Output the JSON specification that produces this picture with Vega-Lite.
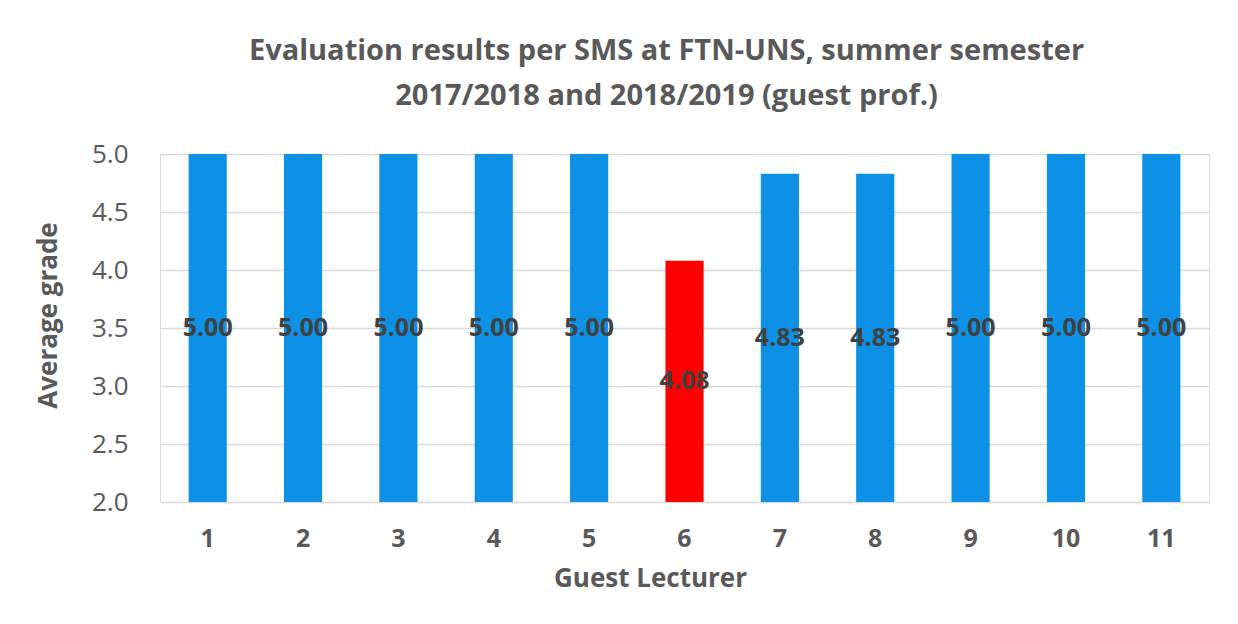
{
  "$schema": "https://vega.github.io/schema/vega-lite/v6.json",
  "width": 1049,
  "height": 348,
  "autosize": {"type": "none"},
  "padding": {"left": 160, "top": 154, "right": 29, "bottom": 122},
  "background": "white",
  "title": {
    "text": ["Evaluation results per SMS at FTN-UNS, summer semester", "2017/2018 and 2018/2019 (guest prof.)"],
    "font": "Open Sans",
    "fontSize": 29,
    "fontWeight": "bold",
    "color": "#595959",
    "anchor": "middle",
    "offset": 30,
    "dx": -18,
    "lineHeight": 45
  },
  "data": {
    "values": [
      {"lecturer": "1", "grade": 5.00, "type": "ok"},
      {"lecturer": "2", "grade": 5.00, "type": "ok"},
      {"lecturer": "3", "grade": 5.00, "type": "ok"},
      {"lecturer": "4", "grade": 5.00, "type": "ok"},
      {"lecturer": "5", "grade": 5.00, "type": "ok"},
      {"lecturer": "6", "grade": 4.08, "type": "low"},
      {"lecturer": "7", "grade": 4.83, "type": "ok"},
      {"lecturer": "8", "grade": 4.83, "type": "ok"},
      {"lecturer": "9", "grade": 5.00, "type": "ok"},
      {"lecturer": "10", "grade": 5.00, "type": "ok"},
      {"lecturer": "11", "grade": 5.00, "type": "ok"}
    ]
  },
  "encoding": {
    "x": {
      "field": "lecturer",
      "type": "ordinal",
      "sort": null,
      "scale": {"paddingInner": 0.6, "paddingOuter": 0.3},
      "axis": {
        "title": "Guest Lecturer",
        "titleFont": "Open Sans",
        "titleFontSize": 26,
        "titleFontWeight": "bold",
        "titleColor": "#595959",
        "titleX": 490,
        "titleY": 76,
        "titleBaseline": "middle",
        "labelFont": "Open Sans",
        "labelFontSize": 25,
        "labelFontWeight": "bold",
        "labelColor": "#595959",
        "labelAngle": 0,
        "labelPadding": 24,
        "ticks": false,
        "domain": false
      }
    }
  },
  "layer": [
    {
      "mark": {"type": "bar"},
      "encoding": {
        "y": {
          "field": "grade",
          "type": "quantitative",
          "scale": {"domain": [2, 5], "zero": false, "nice": false},
          "axis": {
            "title": "Average grade",
            "titleFont": "Open Sans",
            "titleFontSize": 26,
            "titleFontWeight": "bold",
            "titleColor": "#595959",
            "titleX": -112,
            "titleY": 161,
            "titleBaseline": "middle",
            "labelFont": "Open Sans",
            "labelFontSize": 26,
            "labelColor": "#595959",
            "labelPadding": 32,
            "values": [2, 2.5, 3, 3.5, 4, 4.5, 5],
            "format": ".1f",
            "ticks": false,
            "domain": false,
            "grid": true,
            "gridColor": "#d9d9d9",
            "gridWidth": 1.5
          }
        },
        "y2": {"datum": 2},
        "color": {
          "field": "type",
          "type": "nominal",
          "scale": {"domain": ["ok", "low"], "range": ["#0c91e6", "#ff0000"]},
          "legend": null
        }
      }
    },
    {
      "transform": [{"calculate": "(datum.grade + 2) / 2", "as": "mid"}],
      "mark": {
        "type": "text",
        "font": "Open Sans",
        "fontSize": 25,
        "fontWeight": "bold",
        "color": "#404040",
        "baseline": "middle"
      },
      "encoding": {
        "y": {"field": "mid", "type": "quantitative"},
        "text": {"field": "grade", "type": "quantitative", "format": ".2f"}
      }
    }
  ]
}
